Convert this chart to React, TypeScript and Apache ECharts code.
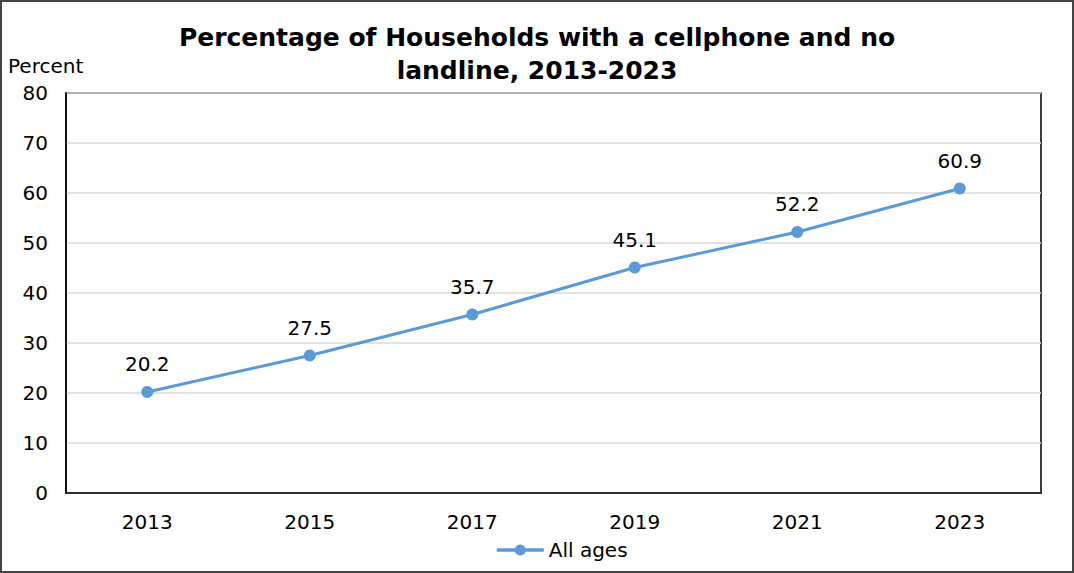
import React, { useEffect, useRef } from "react";
import * as echarts from "echarts";

const years = ["2013", "2015", "2017", "2019", "2021", "2023"];
const allAges = [20.2, 27.5, 35.7, 45.1, 52.2, 60.9];
const seriesName = "All ages";
const titleText = "Percentage of Households with a cellphone and no\nlandline, 2013-2023";
const yLabel = "Percent";

export default function App() {
  const ref = useRef<HTMLDivElement>(null);
  useEffect(() => {
    document.body.style.margin = "0";
    const chart = echarts.init(ref.current!, null, { renderer: "svg" });
    const font = "'DejaVu Sans', Verdana, sans-serif";
    chart.setOption({
      animation: false,
      backgroundColor: "#fff",
      textStyle: { fontFamily: font },
      title: {
        text: titleText,
        left: "center",
        top: 14,
        textStyle: { fontFamily: font, fontSize: 25, fontWeight: "bold", color: "#000", lineHeight: 33 },
      },
      graphic: [
        { type: "text", left: 6, top: 54, style: { text: yLabel, font: `20px ${font}`, fill: "#000" } },
      ],
      legend: {
        bottom: 6,
        left: 488,
        itemWidth: 47,
        itemHeight: 14,
        itemGap: 4,
        itemStyle: { color: "#5B9BD5" },
        lineStyle: { color: "#5B9BD5", width: 3.5 },
        textStyle: { fontFamily: font, fontSize: 20, color: "#000" },
        data: [seriesName],
      },
      grid: { left: 64, right: 31, top: 91, bottom: 78, show: true, borderColor: "#000", borderWidth: 1.5 },
      xAxis: {
        type: "category",
        data: years,
        axisTick: { show: false },
        axisLine: { show: true, lineStyle: { color: "#000", width: 1.5 } },
        axisLabel: { fontSize: 20, color: "#000", margin: 19, fontFamily: font },
      },
      yAxis: {
        type: "value",
        min: 0,
        max: 80,
        interval: 10,
        axisTick: { show: false },
        axisLine: { show: true, lineStyle: { color: "#000", width: 1.5 } },
        axisLabel: { fontSize: 20, color: "#000", margin: 18, fontFamily: font },
        splitLine: { lineStyle: { color: "#d9d9d9", width: 1.5 } },
      },
      series: [
        {
          name: seriesName,
          type: "line",
          data: allAges,
          symbol: "circle",
          symbolSize: 12,
          lineStyle: { color: "#5B9BD5", width: 3 },
          itemStyle: { color: "#5B9BD5" },
          label: { show: true, position: "top", distance: 12, fontSize: 20, color: "#000", fontFamily: font },
        },
      ],
    });
    return () => chart.dispose();
  }, []);
  return (
    <div
      ref={ref}
      style={{ width: 1074, height: 573, boxSizing: "border-box", border: "2px solid #444", position: "absolute", left: 0, top: 0 }}
    />
  );
}
